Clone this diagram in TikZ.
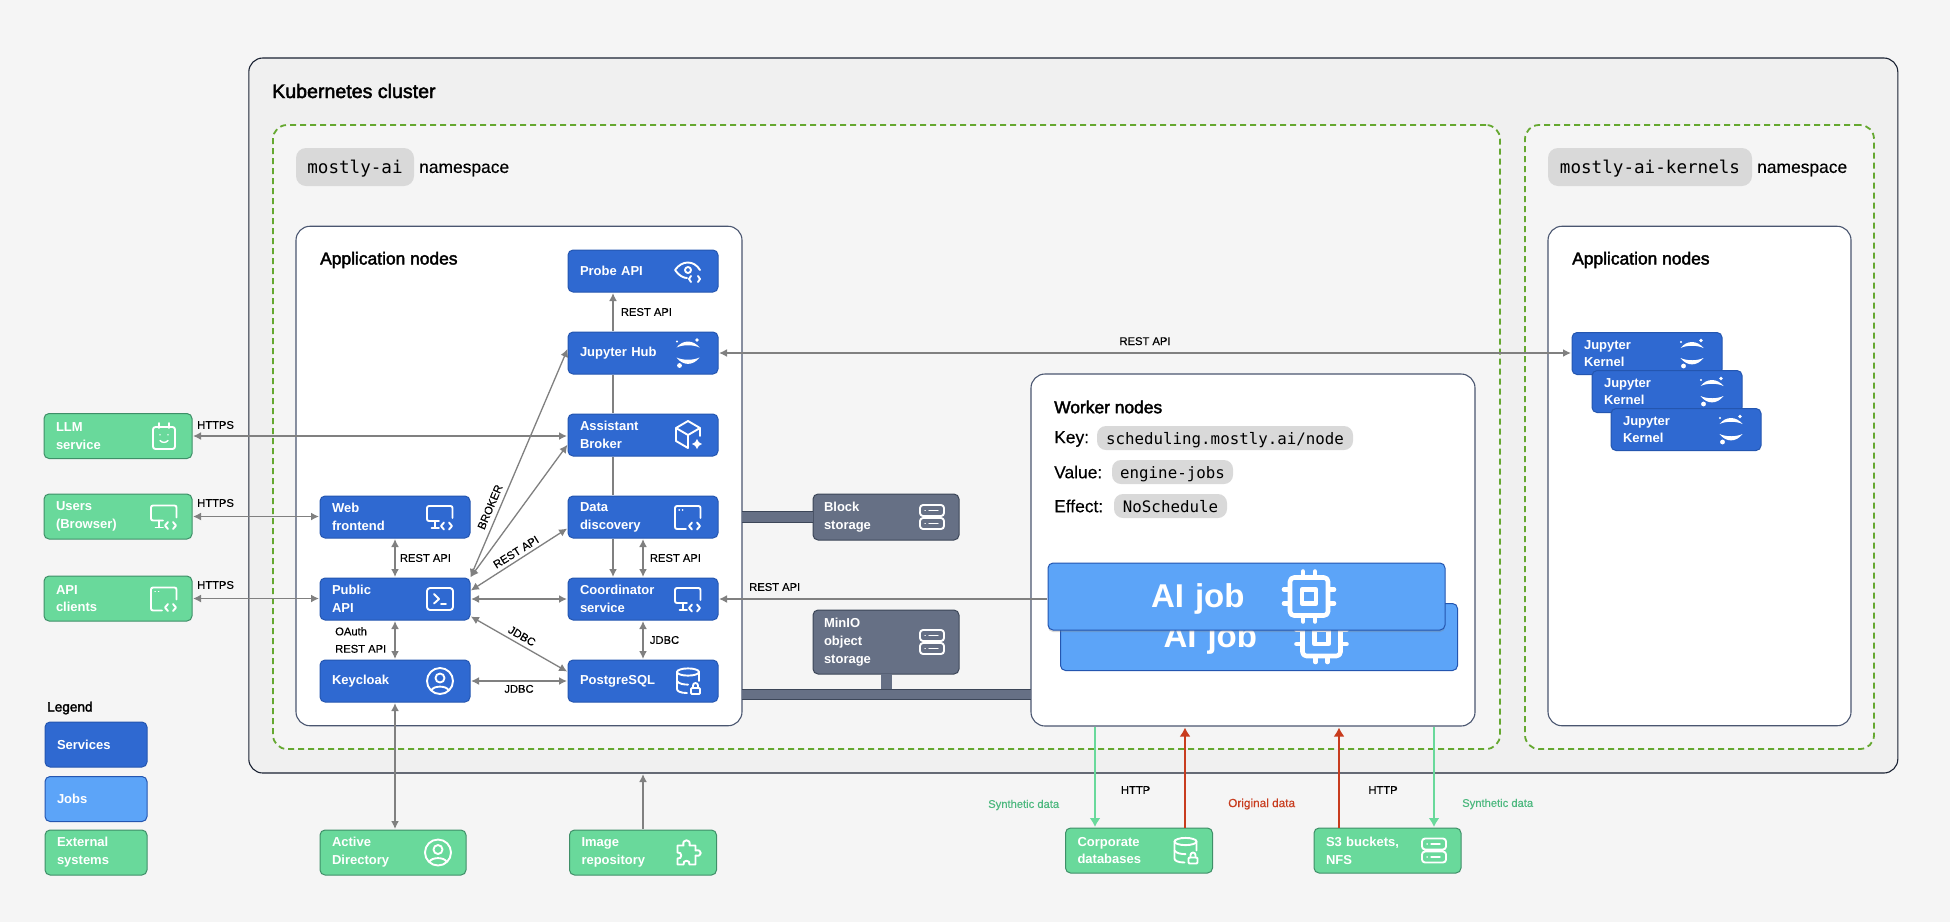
\documentclass[tikz,border=0pt]{standalone}
\usepackage{fontspec}
\setmainfont{Liberation Sans}
\setmonofont{DejaVu Sans Mono}
\newfontfamily\medfont[FakeBold=2.2]{Liberation Sans}
\newfontfamily\lblfont[FakeBold=0.3]{Liberation Sans}
\usetikzlibrary{arrows.meta,shadows}
\definecolor{pagebg}{HTML}{F5F5F5}
\definecolor{clusterbg}{HTML}{F0F0F0}
\definecolor{clusterln}{HTML}{1A2233}
\definecolor{boxln}{HTML}{4A5670}
\definecolor{nsgreen}{HTML}{65A830}
\definecolor{chipbg}{HTML}{D9D9D9}
\definecolor{svcfill}{HTML}{2F69D1}
\definecolor{svcln}{HTML}{2456B0}
\definecolor{jobfill}{HTML}{5CA4F8}
\definecolor{extfill}{HTML}{69D99B}
\definecolor{extln}{HTML}{3F8F68}
\definecolor{stofill}{HTML}{667085}
\definecolor{stoln}{HTML}{3C4658}
\definecolor{connln}{HTML}{808080}
\definecolor{synthtxt}{HTML}{4CB87E}
\definecolor{origred}{HTML}{C83C1E}
\newcommand{\codemark}{
  \draw[iconline] (4,5.5) -- (1,9) -- (4,12.5) (9,5.5) -- (12,9) -- (9,12.5);
}
\tikzset{
  cbox/.style={inner sep=0pt, outer sep=0pt, rounded corners=14pt, line width=1.1pt},
  clusterbox/.style={cbox, draw=clusterln, fill=clusterbg},
  nsbox/.style={cbox, draw=nsgreen, fill=pagebg, line width=1.8pt, dash pattern=on 6pt off 4pt},
  nodebox/.style={cbox, draw=boxln, fill=white},
  tile/.style={rounded corners=5pt, line width=1pt, inner xsep=12pt, inner ysep=0pt, outer sep=0pt,
    text=white, align=left, font=\bfseries\fontsize{13}{17.8}\selectfont},
  svcbox/.style={tile, draw=svcln, fill=svcfill, text width=126pt, minimum height=42pt},
  extbox/.style={tile, draw=extln, fill=extfill, text width=124pt, minimum height=45pt},
  legbox/.style={text width=78pt, minimum height=45pt},
  stobox/.style={tile, draw=stoln, fill=stofill, text width=122pt},
  jobbox/.style={tile, draw=svcln, fill=jobfill, inner xsep=103pt, text width=191pt, minimum height=67pt,
    text depth=2pt, font=\bfseries\fontsize{33}{36}\selectfont},
  chipnode/.style={fill=chipbg, rounded corners=10pt, inner sep=0pt, outer sep=0pt, text depth=0pt, font=\ttfamily\fontsize{17.6}{20}\selectfont},
  keychip/.style={chipnode, rounded corners=9pt, minimum height=24pt, font=\ttfamily\fontsize{15.8}{18}\selectfont},
  headtxt/.style={anchor=west, inner sep=0pt, font=\medfont\fontsize{17.4}{20}\selectfont},
  plaintxt/.style={anchor=west, inner sep=0pt, font=\lblfont\fontsize{17.4}{20}\selectfont},
  lbl/.style={inner sep=0pt, font=\lblfont\fontsize{11.2}{13.4}\selectfont, align=left},
  conn/.style={draw=connln, line width=1.8pt, shorten >=1pt, shorten <=1pt, >={Latex[length=8pt,width=8pt]}},
  thinconn/.style={conn, line width=1.3pt},
  synthconn/.style={draw=extfill, line width=2pt, shorten >=1pt, >={Latex[length=9pt,width=11pt]}},
  origconn/.style={draw=origred, line width=2pt, shorten >=1pt, >={Latex[length=9pt,width=11pt]}},
  stobar/.style={draw=stoln, line width=.8pt, double=stofill, double distance=9.6pt},
  iconline/.style={draw=white, line width=1.9pt, line cap=round, line join=round},
  pics/monitorcode/.style={code={
    \draw[iconline, rounded corners=2pt] (-1,4) -- (-13,4) -- (-13,-11) -- (12.5,-11) -- (12.5,1);
    \draw[iconline] (-5,4) -- (-5,11) (-8.5,11) -- (-1,11);
    \codemark
  }},
  pics/windowcode/.style={code={
    \draw[iconline, rounded corners=2pt] (-2,12) -- (-13,12) -- (-13,-11) -- (12.5,-11) -- (12.5,1);
    \draw[iconline, line width=1.2pt] (-9,-7) -- (-8.6,-7) (-5.6,-7) -- (-5.2,-7);
    \codemark
  }},
  pics/terminalicon/.style={code={
    \draw[iconline, rounded corners=3pt] (-13,-11) rectangle (13,11);
    \draw[iconline] (-6,-5) -- (-1,0) -- (-6,4.5) (1,5) -- (6,5);
  }},
  pics/usericon/.style={code={
    \draw[iconline] (0,0) circle[radius=13];
    \draw[iconline] (0,-3) circle[radius=4.5];
    \draw[iconline] (-8.5,9) .. controls (-6,4.5) and (6,4.5) .. (8.5,9);
  }},
  pics/dblock/.style={code={
    \draw[iconline] (0,-9) ellipse[x radius=11, y radius=3.6];
    \draw[iconline] (-11,-9) -- (-11,8) .. controls (-11,10) and (-8,12) .. (-1,12);
    \draw[iconline] (11,-9) -- (11,0) (-11,0) .. controls (-9,3) and (-4,3.6) .. (0,3.6);
    \draw[iconline, rounded corners=1pt] (3,7) rectangle (12,13);
    \draw[iconline] (5,7) -- (5,4.5) arc[start angle=180, end angle=360, radius=2.5] -- (10,7);
  }},
  pics/eyecode/.style={code={
    \draw[iconline] (12,-1) .. controls (6,-11) and (-6,-11) .. (-13,-1) .. controls (-9,5) and (-4,7) .. (-1,7);
    \draw[iconline] (0,-1) circle[radius=3];
    \draw[iconline] (3,5) -- (1,8) -- (3,11) (10,5) -- (12,8) -- (10,11);
  }},
  pics/jupytericon/.style={code={
    \fill[white] (-11.5,-5.5) .. controls (-5,-13.5) and (5,-13.5) .. (11.5,-5.5) .. controls (5,-8.5) and (-5,-8.5) .. (-11.5,-5.5) -- cycle;
    \fill[white] (-11.5,4.5) .. controls (-5,13) and (5,13) .. (11.5,4.5) .. controls (5,7.5) and (-5,7.5) .. (-11.5,4.5) -- cycle;
    \fill[white] (9,-13) circle[radius=1.9] (-11,-11.5) circle[radius=1.2] (-8.5,12.5) circle[radius=2.4];
  }},
  pics/cubespark/.style={code={
    \draw[iconline] (12,1) -- (12,-7) -- (0,-14) -- (-12,-7) -- (-12,6) -- (0,13) (-12,-7) -- (0,0) -- (12,-7) (0,0) -- (0,13);
    \fill[white] (9,4) -- (10.8,7.2) -- (14,9) -- (10.8,10.8) -- (9,14) -- (7.2,10.8) -- (4,9) -- (7.2,7.2) -- cycle;
  }},
  pics/servericon/.style={code={
    \draw[iconline, rounded corners=3pt] (-12,-12) rectangle (12,-1) (-12,1) rectangle (12,12);
    \draw[iconline, line width=1.3pt] (-7,-6.5) -- (-6.8,-6.5) (-3,-6.5) -- (6,-6.5) (-7,6.5) -- (-6.8,6.5) (-3,6.5) -- (6,6.5);
  }},
  pics/calsmile/.style={code={
    \draw[iconline, rounded corners=2.5pt] (-11,-9) rectangle (11,13);
    \draw[iconline] (-5,-13) -- (-5,-8) (5,-13) -- (5,-8);
    \draw[iconline, line width=1.4pt] (-4,-1.5) -- (-4,-1.2) (4,-1.5) -- (4,-1.2) (-4,4.5) .. controls (-2,7) and (2,7) .. (4,4.5);
  }},
  pics/puzzleicon/.style={code={
    \draw[iconline] (-11,-7) -- (-5,-7) .. controls (-7,-14) and (3,-14) .. (1,-7) -- (7,-7) -- (7,-2)
      .. controls (14,-4) and (14,5) .. (7,3) -- (7,12) -- (1,12) .. controls (2,7) and (-6,7) .. (-5,12)
      -- (-11,12) -- (-11,6) .. controls (-6,7) and (-6,-1) .. (-11,0) -- cycle;
  }},
  pics/chipicon/.style={code={
    \draw[iconline, line width=4.6pt, rounded corners=4pt] (-19,-19) rectangle (19,19);
    \draw[iconline, line width=4.6pt, line cap=butt] (-7,-7) rectangle (7,7);
    \draw[iconline, line width=4.6pt] (-6,-25) -- (-6,-20) (6,-25) -- (6,-20) (-6,25) -- (-6,20) (6,25) -- (6,20)
      (-25,-7) -- (-20,-7) (-25,7) -- (-20,7) (25,-7) -- (20,-7) (25,7) -- (20,7);
  }},
}
\begin{document}
\begin{tikzpicture}[x=1pt,y=-1pt]
  \useasboundingbox (0,0) rectangle (1950,922);
  \fill[pagebg] (0,0) rectangle (1950,922);
  % containers
  \node[clusterbox, minimum width=1649pt, minimum height=715pt] (cluster) at (1073.3,415.5) {};
  \node[nsbox, minimum width=1227pt, minimum height=624pt] (nsmain) at (886.5,437) {};
  \node[nsbox, minimum width=349pt, minimum height=624pt] (nskern) at (1699.5,437) {};
  \node[nodebox, minimum width=446pt, minimum height=499.5pt] (appmain) at (519,476) {};
  \node[nodebox, minimum width=303pt, minimum height=499.5pt] (appkern) at (1699.5,476) {};
  \node[nodebox, minimum width=444pt, minimum height=352pt] (worker) at (1253,550) {};
  \node[headtxt, font=\medfont\fontsize{19.6}{22}\selectfont] (clusterT) at (272,91) {Kubernetes cluster};
  \node[chipnode, minimum width=118pt, minimum height=38pt] (nsmainC) at (355,167) {mostly-ai};
  \node[plaintxt] (nsmainT) at (419,170) {namespace};
  \node[chipnode, minimum width=204pt, minimum height=38pt] (nskernC) at (1650,167) {mostly-ai-kernels};
  \node[plaintxt] (nskernT) at (1757,170) {namespace};
  \node[headtxt] (appmainT) at (320,260) {Application nodes};
  \node[headtxt] (appkernT) at (1572,260) {Application nodes};
  \node[headtxt] (workerT) at (1054,407) {Worker nodes};
  \node[plaintxt] (keyT) at (1054,439) {Key:};
  \node[keychip, minimum width=256pt] (keyC) at (1225,438) {scheduling.mostly.ai/node};
  \node[plaintxt] (valT) at (1054,472) {Value:};
  \node[keychip, minimum width=121pt] (valC) at (1172.5,472) {engine-jobs};
  \node[plaintxt] (effT) at (1054,506) {Effect:};
  \node[keychip, minimum width=113pt] (effC) at (1170.5,506) {NoSchedule};
  % storage
  \node[stobox, minimum height=46pt, inner xsep=11pt, text width=124pt] (block) at (886,517) {Block\\storage};
  \node[stobox, minimum height=64pt, inner xsep=11pt, text width=124pt] (minio) at (886,642) {MinIO\\object\\storage};
  \coordinate (busL) at (742,694.5);
  \coordinate (busR) at (1031,694.5);
  \draw[stobar] (appmain.east |- block.west) -- (block.west);
  \draw[draw=stofill, line width=11pt] (minio.south) -- (minio.south |- busL);
  \draw[stobar] (busL) -- (busR);
  % services
  \node[svcbox] (probe) at (643,271) {Probe API};
  \node[svcbox] (jhub) at (643,353) {Jupyter Hub};
  \node[svcbox] (broker) at (643,435) {Assistant\\Broker};
  \node[svcbox] (discovery) at (643,517) {Data\\discovery};
  \node[svcbox] (coord) at (643,599) {Coordinator\\service};
  \node[svcbox] (pg) at (643,681) {PostgreSQL};
  \node[svcbox] (web) at (395,517) {Web\\frontend};
  \node[svcbox] (pubapi) at (395,599) {Public\\API};
  \node[svcbox] (keycloak) at (395,681) {Keycloak};
  \node[svcbox] (kernelA) at (1647,353.5) {Jupyter\\Kernel};
  \node[svcbox] (kernelB) at (1667,391.5) {Jupyter\\Kernel};
  \node[svcbox] (kernelC) at (1686,429.5) {Jupyter\\Kernel};
  \pic at ([xshift=-30pt]probe.east) {eyecode};
  \pic at ([xshift=-30pt]jhub.east) {jupytericon};
  \pic at ([xshift=-30pt]broker.east) {cubespark};
  \pic at ([xshift=-30pt]discovery.east) {windowcode};
  \pic at ([xshift=-30pt]coord.east) {monitorcode};
  \pic at ([xshift=-30pt]pg.east) {dblock};
  \pic at ([xshift=-30pt]web.east) {monitorcode};
  \pic at ([xshift=-30pt]pubapi.east) {terminalicon};
  \pic at ([xshift=-30pt]keycloak.east) {usericon};
  \pic at ([xshift=-30pt]kernelA.east) {jupytericon};
  \pic at ([xshift=-30pt]kernelB.east) {jupytericon};
  \pic at ([xshift=-30pt]kernelC.east) {jupytericon};
  \pic at ([xshift=-27pt]block.east) {servericon};
  \pic at ([xshift=-27pt]minio.east) {servericon};
  % jobs
  \node[jobbox] (aijobB) at (1259,637) {AI job};
  \pic at ([xshift=-136pt]aijobB.east) {chipicon};
  \node[jobbox, drop shadow={opacity=.3, shadow xshift=0pt, shadow yshift=-2pt}] (aijobA) at (1246.5,596.5) {AI job};
  \pic at ([xshift=-136pt]aijobA.east) {chipicon};
  % external systems
  \node[extbox] (llm) at (118,436) {LLM\\service};
  \node[extbox] (users) at (118,516.5) {Users\\(Browser)};
  \node[extbox] (apicl) at (118,598.5) {API\\clients};
  \node[extbox, text width=122pt] (adir) at (393,852.5) {Active\\Directory};
  \node[extbox, text width=123pt] (imgrepo) at (643,852.5) {Image\\repository};
  \node[extbox, text width=123pt] (corpdb) at (1139,850.5) {Corporate\\databases};
  \node[extbox, text width=123pt] (s3) at (1387.5,850.5) {S3 buckets,\\NFS};
  \pic at ([xshift=-28pt]llm.east) {calsmile};
  \pic at ([xshift=-28pt]users.east) {monitorcode};
  \pic at ([xshift=-28pt]apicl.east) {windowcode};
  \pic at ([xshift=-28pt]adir.east) {usericon};
  \pic at ([xshift=-28pt]imgrepo.east) {puzzleicon};
  \pic at ([xshift=-27pt]corpdb.east) {dblock};
  \pic at ([xshift=-27pt]s3.east) {servericon};
  % legend
  \node[headtxt, font=\medfont\fontsize{13.6}{16}\selectfont] (legT) at (47,708) {Legend};
  \node[svcbox, legbox] (legsvc) at (96,744.5) {Services};
  \node[jobbox, legbox, inner xsep=12pt, text depth=, font=\bfseries\fontsize{13}{17.8}\selectfont] (legjob) at (96,799) {Jobs};
  \node[extbox, legbox] (legext) at (96,852.5) {External\\systems};
  % connectors
  \draw[conn, <->] (llm.east) -- (llm.east -| broker.west);
  \draw[conn, <->] (users.east) -- (users.east -| web.west);
  \draw[conn, <->] (apicl.east) -- (apicl.east -| pubapi.west);
  \node[lbl, anchor=west] (llmL) at (197,425) {HTTPS};
  \node[lbl, anchor=west] (usersL) at (197,503) {HTTPS};
  \node[lbl, anchor=west] (apiclL) at (197,585) {HTTPS};
  \draw[conn, <->] (web.south) -- node[lbl, right=4pt] (webL) {REST API} (pubapi.north);
  \draw[conn, <->] (pubapi.south) -- (keycloak.north);
  \node[lbl, anchor=west] (oauthL) at (335,640) {OAuth\\[4pt]REST API};
  \draw[conn, <->] (pubapi.east) -- (coord.west);
  \draw[conn, <->] (keycloak.east) -- node[lbl, below=3pt] (kcL) {JDBC} (pg.west);
  \draw[thinconn, <->] (pubapi.north east) -- ([yshift=5pt]jhub.west);
  \draw[thinconn, <->] (pubapi.north east) -- ([yshift=-9pt]broker.west);
  \draw[thinconn, <->] ([yshift=8pt]pubapi.east) -- ([yshift=-11pt]discovery.west);
  \draw[thinconn, <->] ([yshift=-17pt]pubapi.east) -- ([yshift=9pt]pg.west);
  \node[lbl, rotate=67] (brokerL) at (490,507) {BROKER};
  \node[lbl, rotate=32] (discL) at (516,552) {REST API};
  \node[lbl, rotate=-30] (pgL) at (522,636) {JDBC};
  \draw[conn, ->] ([xshift=-30pt]jhub.north) -- node[lbl, right=7pt] (probeL) {REST API} ([xshift=-30pt]probe.south);
  \draw[conn] ([xshift=-30pt]broker.north) -- ([xshift=-30pt]jhub.south);
  \draw[conn] ([xshift=-30pt]discovery.north) -- ([xshift=-30pt]broker.south);
  \draw[conn, ->] ([xshift=-30pt]discovery.south) -- ([xshift=-30pt]coord.north);
  \draw[conn, <->] (discovery.south) -- node[lbl, right=6pt] (discoL) {REST API} (coord.north);
  \draw[conn, <->] (coord.south) -- node[lbl, right=6pt] (coordL) {JDBC} (pg.north);
  \draw[conn, <->] (jhub.east) -- node[lbl, above=7pt] (kernL) {REST API} (jhub.east -| kernelA.west);
  \draw[conn, ->] (coord.east -| aijobA.west) -- (coord.east);
  \node[lbl, anchor=west] (aijobL) at (749,587) {REST API};
  \draw[conn, <->] (keycloak.south) -- (adir.north -| keycloak.south);
  \draw[conn, ->] (imgrepo.north) -- (imgrepo.north |- cluster.south);
  % data flows
  \coordinate (synA) at (1095,726.5);
  \coordinate (orgA) at (1185,726.5);
  \coordinate (orgB) at (1339,726.5);
  \coordinate (synB) at (1434,726.5);
  \draw[synthconn, ->] (synA) -- (synA |- corpdb.north);
  \draw[origconn, ->] (orgA |- corpdb.north) -- (orgA);
  \draw[origconn, ->] (orgB |- s3.north) -- (orgB);
  \draw[synthconn, ->] (synB) -- (synB |- s3.north);
  \node[lbl, anchor=west, text=synthtxt] (synAL) at (988,805) {Synthetic data};
  \node[lbl] (httpA) at (1135.6,790) {HTTP};
  \node[lbl, anchor=west, text=origred, font=\lblfont\fontsize{11.8}{14}\selectfont] (orgL) at (1228,804) {Original data};
  \node[lbl] (httpB) at (1383,790) {HTTP};
  \node[lbl, anchor=west, text=synthtxt] (synBL) at (1462,804) {Synthetic data};
\end{tikzpicture}
\end{document}
